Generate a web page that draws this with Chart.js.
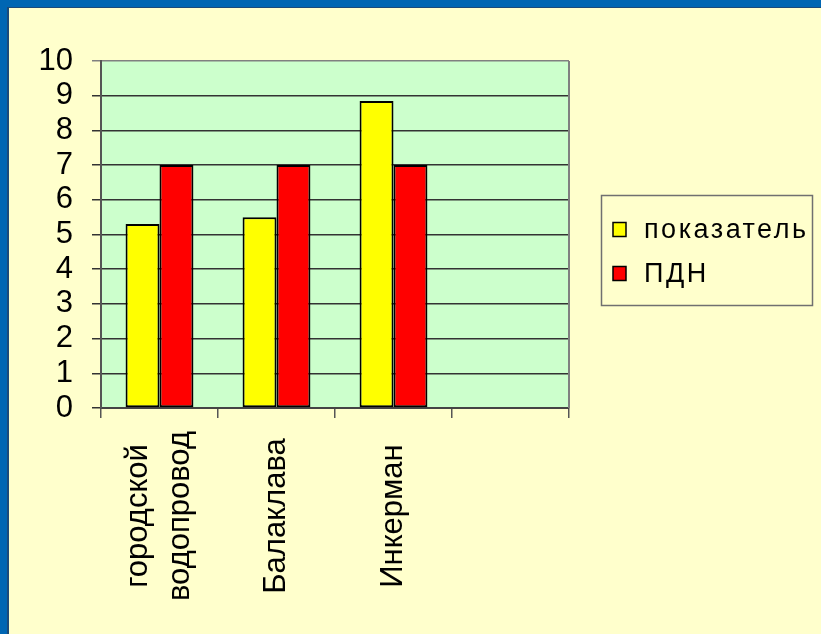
<!DOCTYPE html>
<html>
<head>
<meta charset="utf-8">
<script src="https://cdn.jsdelivr.net/npm/chart.js@4/dist/chart.umd.min.js"></script>
<style>
  html, body { margin: 0; padding: 0; background: #0066B3; }
  canvas { display: block; }
</style>
</head>
<body>
<canvas id="grafik" width="821" height="634"></canvas>
<script>
// данные диаграммы
const kategorii = [['городской', 'водопровод'], 'Балаклава', 'Инкерман', ''];
const nazvaniyaRyadov = ['показатель', 'ПДН'];
const pokazatel = [5.3, 5.5, 8.85, null];
const pdn = [7, 7, 7, null];
const shkalaY = { min: 0, max: 10, shag: 1 };

const SHRIFT = '"Liberation Sans", Arial, sans-serif';

// фон, рамка области построения, подписи оси X и легенда
const fonPlugin = {
    id: 'fon',
    beforeDraw(chart) {
        const { ctx, chartArea: a, width, height } = chart;
        ctx.save();
        ctx.fillStyle = '#0066B3';
        ctx.fillRect(0, 0, width, height);
        ctx.fillStyle = '#1B4A7A';
        ctx.fillRect(7, 7, width, height);
        ctx.fillStyle = '#FFFFCC';
        ctx.fillRect(9, 8, width, height);
        ctx.fillStyle = '#CCFFCC';
        ctx.fillRect(a.left, a.top, a.right - a.left, a.bottom - a.top);
        ctx.restore();
    },
    afterDraw(chart) {
        const { ctx, chartArea: a } = chart;
        const xScale = chart.scales.x;
        ctx.save();

        // правая граница области
        ctx.strokeStyle = '#808080';
        ctx.lineWidth = 2;
        ctx.beginPath();
        ctx.moveTo(a.right, a.top);
        ctx.lineTo(a.right, a.bottom);
        ctx.stroke();

        // подписи категорий (повернутые)
        ctx.fillStyle = '#000';
        ctx.font = '31px ' + SHRIFT;
        ctx.textAlign = 'center';
        ctx.textBaseline = 'middle';
        chart.data.labels.forEach((label, i) => {
            const stroki = Array.isArray(label) ? label : [label];
            const x = xScale.getPixelForValue(i);
            ctx.save();
            ctx.translate(x, 516);
            ctx.rotate(-Math.PI / 2);
            stroki.forEach((s, j) => {
                ctx.fillText(s, 0, (j - (stroki.length - 1) / 2) * 42);
            });
            ctx.restore();
        });

        // легенда
        ctx.strokeStyle = '#707070';
        ctx.lineWidth = 1.5;
        ctx.strokeRect(601.5, 195.5, 211, 110);
        ctx.font = '27px ' + SHRIFT;
        ctx.textAlign = 'left';
        ctx.textBaseline = 'alphabetic';
        ctx.letterSpacing = '2.5px';
        chart.data.datasets.forEach((ds, i) => {
            const cy = 229.5 + i * 44;
            ctx.fillStyle = ds.backgroundColor;
            ctx.fillRect(613, cy - 7, 13, 14);
            ctx.strokeStyle = '#000';
            ctx.lineWidth = 1.5;
            ctx.strokeRect(613, cy - 7, 13, 14);
            ctx.fillStyle = '#000';
            ctx.fillText(ds.label, 644, cy + 8);
        });
        ctx.restore();
    }
};

const ctx = document.getElementById('grafik').getContext('2d');

new Chart(ctx, {
    type: 'bar',
    data: {
        labels: kategorii,
        datasets: [
            {
                label: nazvaniyaRyadov[0],
                data: pokazatel,
                backgroundColor: '#FFFF00',
                borderColor: '#000000',
                borderWidth: 2,
                borderSkipped: false,
                categoryPercentage: 0.58,
                barPercentage: 1,
            },
            {
                label: nazvaniyaRyadov[1],
                data: pdn,
                backgroundColor: '#FF0000',
                borderColor: '#000000',
                borderWidth: 2,
                borderSkipped: false,
                categoryPercentage: 0.58,
                barPercentage: 1,
            },
        ],
    },
    options: {
        responsive: false,
        animation: false,
        devicePixelRatio: 1,
        layout: { padding: { top: 61, right: 252, left: 0, bottom: 0 } },
        plugins: {
            legend: { display: false },
            tooltip: { enabled: false },
        },
        scales: {
            x: {
                ticks: { display: false },
                grid: {
                    offset: true,
                    drawOnChartArea: false,
                    drawTicks: true,
                    tickLength: 10,
                    color: '#555555',
                    lineWidth: 1.5,
                },
                border: { color: '#444444', width: 2 },
                afterFit: s => { s.height = 226; },
            },
            y: {
                min: shkalaY.min,
                max: shkalaY.max,
                ticks: {
                    stepSize: shkalaY.shag,
                    autoSkip: false,
                    color: '#000',
                    padding: 19,
                    font: { family: SHRIFT, size: 31 },
                },
                grid: {
                    tickLength: 9,
                    lineWidth: 1.5,
                    color: c => c.tick && c.tick.value === shkalaY.max ? '#808080' : '#333333',
                },
                border: { color: '#555555', width: 2 },
                afterFit: s => { s.width = 101; },
            },
        },
    },
    plugins: [fonPlugin],
});
</script>
</body>
</html>
